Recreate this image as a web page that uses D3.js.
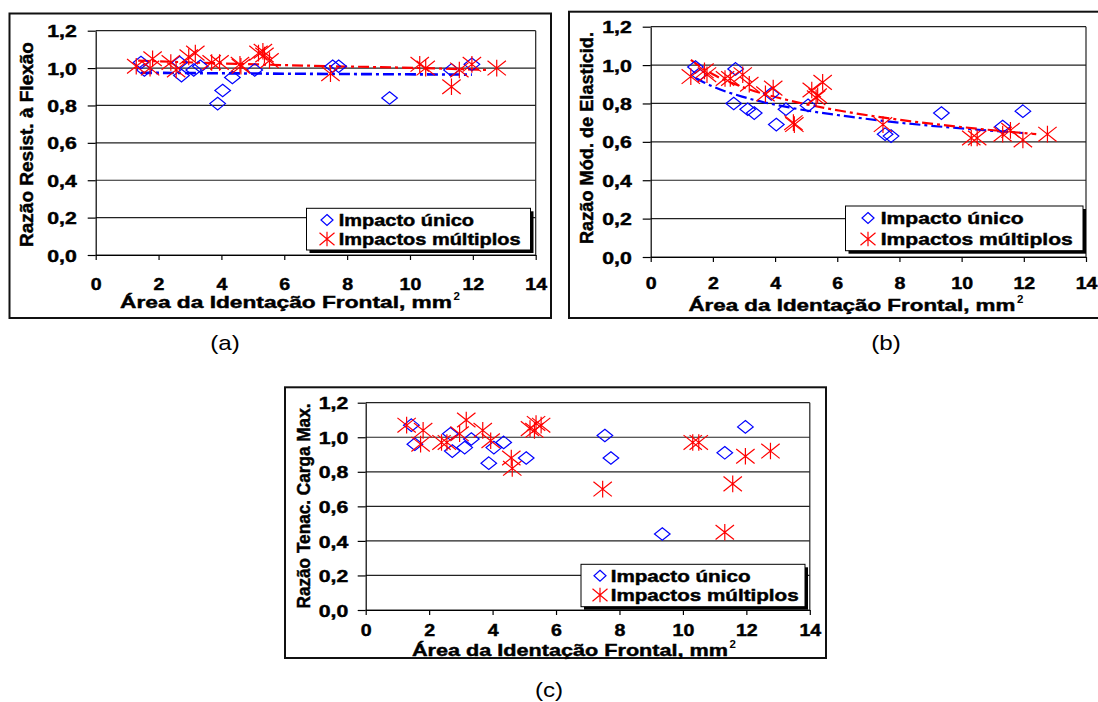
<!DOCTYPE html>
<html>
<head>
<meta charset="utf-8">
<script src="https://cdn.jsdelivr.net/npm/d3@7"></script>
<style>
  body { margin: 0; background: #fff; }
  svg { display: block; }
  text { font-family: "Liberation Sans", Arial, sans-serif; }
  text.heavy { stroke: #000; stroke-width: 0.45px; }
</style>
</head>
<body>
<svg id="chart" width="1098" height="702"></svg>
<script>
// ticks
const xTicks = [0, 2, 4, 6, 8, 10, 12, 14];
const yTicks = [0, 0.2, 0.4, 0.6, 0.8, 1.0, 1.2];

// area of frontal indentation (mm2), same specimens in the three panels
const areaUnico = [1.44, 1.55, 2.67, 2.73, 3.12, 3.33, 3.88, 4.04, 4.35, 5.06, 7.54, 7.73, 9.35, 11.32, 11.97];
const areaMultiplo = [1.29, 1.73, 1.81, 2.39, 2.56, 2.96, 3.17, 3.69, 3.94, 4.59, 4.62, 5.18, 5.32, 5.37, 5.53, 7.47, 10.31, 10.50, 11.32, 11.57, 11.97, 12.76];

// (a) resistência à flexão
const flexaoUnico = [1.03, 0.99, 1.03, 0.96, 0.99, 1.01, 0.81, 0.88, 0.95, 0.99, 1.01, 1.01, 0.84, 0.99, 1.02];
const flexaoMultiplo = [1.01, 1.00, 1.05, 1.03, 0.99, 1.06, 1.08, 1.03, 1.03, 1.02, 1.01, 1.08, 1.09, 1.07, 1.04, 0.97, 1.02, 1.00, 0.90, 0.99, 1.02, 1.00];
// (b) módulo de elasticidade
const moduloUnico = [0.99, 0.95, 0.80, 0.98, 0.77, 0.75, 0.85, 0.69, 0.77, 0.79, 0.64, 0.63, 0.75, 0.68, 0.76];
const moduloMultiplo = [0.94, 0.97, 0.95, 0.93, 0.93, 0.95, 0.90, 0.85, 0.88, 0.70, 0.69, 0.87, 0.83, 0.84, 0.91, 0.69, 0.62, 0.62, 0.64, 0.66, 0.61, 0.64];
// (c) tenacidade carga max.
const tenacUnico = [1.07, 0.96, 1.02, 0.92, 0.94, 0.99, 0.85, 0.94, 0.97, 0.88, 1.01, 0.88, 0.44, 0.91, 1.06];
const tenacMultiplo = [1.07, 0.96, 1.04, 0.97, 0.97, 1.02, 1.10, 1.04, 0.98, 0.88, 0.82, 1.05, 1.04, 1.08, 1.07, 0.70, 0.97, 0.97, 0.45, 0.73, 0.89, 0.92];

// trend lines
const trendFlexaoUnicoX = [1.44, 6, 11.97];
const trendFlexaoUnicoY = [0.975, 0.97, 0.965];
const trendFlexaoMultiploX = [1.35, 4, 7.5, 10.4, 12.45];
const trendFlexaoMultiploY = [1.04, 1.025, 1.01, 1.0, 0.99];
const trendModuloUnicoX = [1.44, 2, 3, 4.5, 6.4, 8, 10, 11.97];
const trendModuloUnicoY = [0.933, 0.888, 0.833, 0.778, 0.731, 0.700, 0.670, 0.646];
const trendModuloMultiploX = [1.29, 2, 3, 4.4, 6.1, 8, 10, 12.4];
const trendModuloMultiploY = [1.027, 0.952, 0.883, 0.818, 0.762, 0.715, 0.677, 0.640];

const legendLabels = ["Impacto único", "Impactos múltiplos"];
const xTitle = "Área da Identação Frontal, mm";

const svg = d3.select('#chart');
const zip = (xs, ys) => xs.map((x, i) => [x, ys[i]]);

// the original figure is stretched sideways, so widen the glyphs
function stretch(sel, k) {
  sel.each(function () {
    const w = this.getComputedTextLength();
    d3.select(this).attr('textLength', w * k).attr('lengthAdjust', 'spacingAndGlyphs');
  });
}

const panels = [
  {
    frame: [9.5, 13.5, 541.5, 304.5],
    plot: { l: 95.7, r: 535.7, t: 30.7, b: 255 },
    unico: flexaoUnico, multiplo: flexaoMultiplo,
    trends: [[trendFlexaoUnicoX, trendFlexaoUnicoY, '#0000ff', 2.6], [trendFlexaoMultiploX, trendFlexaoMultiploY, '#ff0000', 2.2]],
    yTitle: "Razão Resist. à Flexão", yTitlePos: [27, 144.5, 205],
    xTitlePos: [120, 308, 332], xPad: 18, yPad: 11,
    legend: { x: 306.5, y: 208.3, w: 224, h: 41.7, rows: [220, 239], mx: 327, tx: 338.7, fs: 16.5, k: 1.21 },
    caption: ["(a)", 225, 350]
  },
  {
    frame: [569, 11.7, 540, 306.3],
    plot: { l: 650.7, r: 1086, t: 26.7, b: 257 },
    unico: moduloUnico, multiplo: moduloMultiplo,
    trends: [[trendModuloUnicoX, trendModuloUnicoY, '#0000ff', 2.2], [trendModuloMultiploX, trendModuloMultiploY, '#ff0000', 2.2]],
    yTitle: "Razão Mód. de Elasticid.", yTitlePos: [587, 138, 212],
    xTitlePos: [688.4, 311, 327], xPad: 15, yPad: 11,
    legend: { x: 845.5, y: 206, w: 237.5, h: 44.7, rows: [218, 239], mx: 868, tx: 880.7, fs: 17, k: 1.24 },
    caption: ["(b)", 886, 350]
  },
  {
    frame: [285, 387.3, 541, 270.7],
    plot: { l: 365.7, r: 809.8, t: 402.7, b: 610 },
    unico: tenacUnico, multiplo: tenacMultiplo,
    trends: [],
    yTitle: "Razão Tenac. Carga Max.", yTitlePos: [303.3, 506, 205],
    xTitlePos: [412, 655.5, 316], xPad: 8.5, yPad: 9.4,
    legend: { x: 581, y: 564.3, w: 224, h: 42.4, rows: [575.7, 595], mx: 600, tx: 610.7, fs: 16.5, k: 1.25 },
    caption: ["(c)", 549, 697]
  }
];

function diamond(g, cx, cy, hw, hh) {
  g.append('path')
    .attr('d', `M${cx},${cy - hh}L${cx + hw},${cy}L${cx},${cy + hh}L${cx - hw},${cy}Z`)
    .attr('fill', 'none').attr('stroke', '#0000ff').attr('stroke-width', 1.2);
}

function star(g, cx, cy, hw, hh) {
  g.append('path')
    .attr('d', `M${cx - hw},${cy - hh}L${cx + hw},${cy + hh}M${cx - hw},${cy + hh}L${cx + hw},${cy - hh}M${cx},${cy - hh - 1}L${cx},${cy + hh + 1}`)
    .attr('fill', 'none').attr('stroke', '#ff0000').attr('stroke-width', 1.2);
}

panels.forEach(p => {
  const g = svg.append('g');
  const [fx, fy, fw, fh] = p.frame;
  g.append('rect').attr('x', fx).attr('y', fy).attr('width', fw).attr('height', fh)
    .attr('fill', 'none').attr('stroke', '#111').attr('stroke-width', 2);

  const x = d3.scaleLinear().domain([0, 14]).range([p.plot.l, p.plot.r]);
  const y = d3.scaleLinear().domain([0, 1.2]).range([p.plot.b, p.plot.t]);

  // gridlines
  g.selectAll('.grid').data(yTicks).enter().append('line')
    .attr('x1', p.plot.l).attr('x2', p.plot.r)
    .attr('y1', d => y(d)).attr('y2', d => y(d))
    .attr('stroke', '#222').attr('stroke-width', 1.2);
  g.append('line').attr('x1', p.plot.r).attr('x2', p.plot.r)
    .attr('y1', p.plot.t).attr('y2', p.plot.b).attr('stroke', '#222').attr('stroke-width', 1.2);

  const yAxis = g.append('g').attr('transform', `translate(${p.plot.l},0)`)
    .call(d3.axisLeft(y).tickValues(yTicks).tickSize(8).tickSizeOuter(0).tickPadding(p.yPad)
      .tickFormat(d => d3.format('.1f')(d).replace('.', ',')));
  const xAxis = g.append('g').attr('transform', `translate(0,${p.plot.b})`)
    .call(d3.axisBottom(x).tickValues(xTicks).tickSize(5).tickSizeOuter(0).tickPadding(p.xPad)
      .tickFormat(d3.format('d')));
  [yAxis, xAxis].forEach(a => {
    a.selectAll('path,line').attr('stroke', '#000').attr('stroke-width', 1.2);
    a.selectAll('text').attr('font-family', '"Liberation Sans", Arial, sans-serif')
      .attr('font-size', 17).attr('font-weight', 'bold').attr('fill', '#000')
      .attr('class', 'heavy');
  });
  yAxis.selectAll('text').attr('dy', '0.36em');
  stretch(yAxis.selectAll('text'), 1.25);
  stretch(xAxis.selectAll('text'), 1.15);

  // titles
  g.append('text').attr('class', 'heavy')
    .attr('transform', `translate(${p.yTitlePos[0]},${p.yTitlePos[1]}) rotate(-90)`)
    .attr('text-anchor', 'middle').attr('dy', '0.36em')
    .attr('font-size', 17.5).attr('font-weight', 'bold')
    .attr('textLength', p.yTitlePos[2]).attr('lengthAdjust', 'spacingAndGlyphs')
    .text(p.yTitle);
  g.append('text').attr('class', 'heavy')
    .attr('x', p.xTitlePos[0]).attr('y', p.xTitlePos[1])
    .attr('font-size', 17).attr('font-weight', 'bold')
    .attr('textLength', p.xTitlePos[2]).attr('lengthAdjust', 'spacingAndGlyphs')
    .text(xTitle);
  g.append('text')
    .attr('x', p.xTitlePos[0] + p.xTitlePos[2] + 1.5).attr('y', p.xTitlePos[1] - 8)
    .attr('font-size', 11.5).attr('font-weight', 'bold')
    .text('2');

  // trend lines
  const line = d3.line().x(d => x(d[0])).y(d => y(d[1])).curve(d3.curveMonotoneX);
  p.trends.forEach(([tx, ty, col, w]) => {
    g.append('path').attr('d', line(zip(tx, ty)))
      .attr('fill', 'none').attr('stroke', col).attr('stroke-width', w)
      .attr('stroke-dasharray', '11,4,3,4');
  });

  // markers
  zip(areaUnico, p.unico).forEach(d => diamond(g, x(d[0]), y(d[1]), 7.8, 6.3));
  zip(areaMultiplo, p.multiplo).forEach(d => star(g, x(d[0]), y(d[1]), 9.2, 7.3));

  // legend
  const L = p.legend;
  g.append('rect').attr('x', L.x + 3).attr('y', L.y + 3).attr('width', L.w).attr('height', L.h).attr('fill', '#000');
  g.append('rect').attr('x', L.x).attr('y', L.y).attr('width', L.w).attr('height', L.h)
    .attr('fill', '#fff').attr('stroke', '#000').attr('stroke-width', 1);
  diamond(g, L.mx, L.rows[0], 6, 5.5);
  star(g, L.mx, L.rows[1], 7.5, 6.2);
  const lt = g.selectAll('.leg').data(legendLabels).enter().append('text')
    .attr('class', 'heavy')
    .attr('x', L.tx).attr('y', (d, i) => L.rows[i]).attr('dy', '0.36em')
    .attr('font-size', L.fs).attr('font-weight', 'bold').text(d => d);
  stretch(lt, L.k);

  // caption
  const cap = svg.append('text').attr('x', p.caption[1]).attr('y', p.caption[2])
    .attr('text-anchor', 'middle').attr('font-size', 21).text(p.caption[0]);
  stretch(cap, 1.15);
});
</script>
</body>
</html>
